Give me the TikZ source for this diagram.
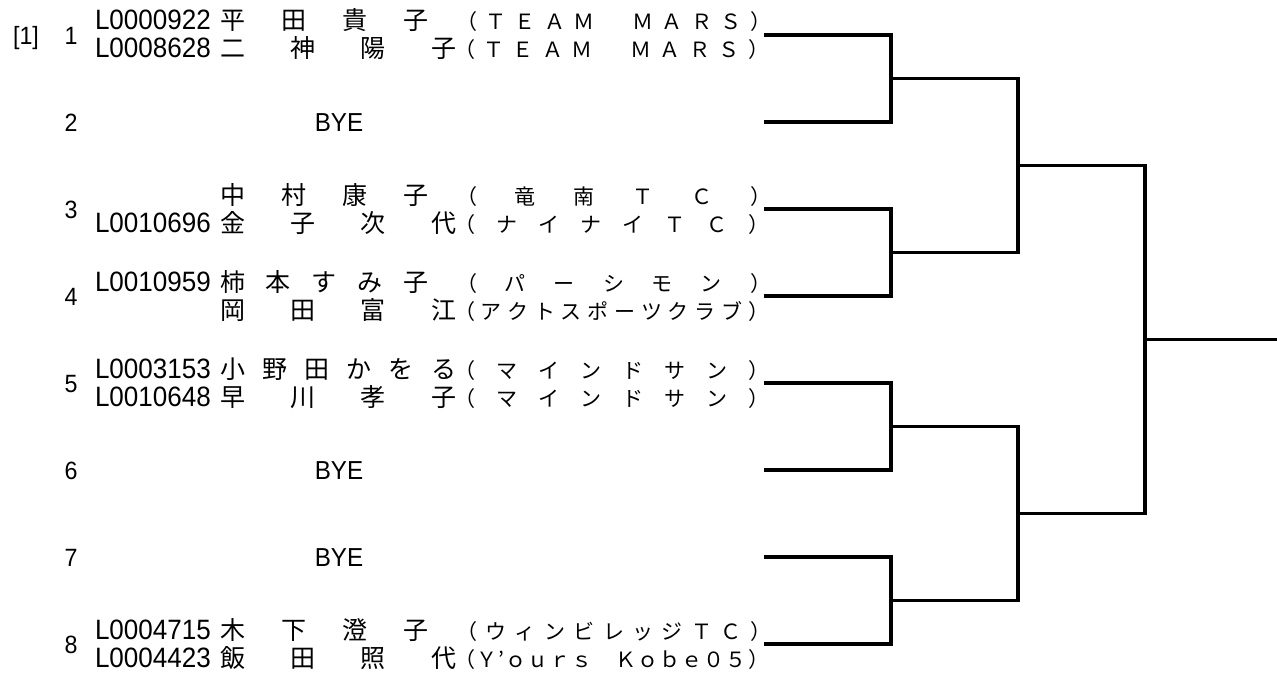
\documentclass[tikz,border=0pt]{standalone}
\usepackage{fontspec}
\setmainfont{Liberation Sans}
\newfontfamily\idfont[FakeStretch=0.93]{Liberation Sans}
\newfontfamily\jfont{Noto Sans CJK JP}
\makeatletter
\newcommand\spr[2]{\makebox[#1][s]{\spr@a#2\relax}}
\def\spr@a#1{#1\spr@b}
\def\spr@b#1{\ifx#1\relax\else\hfill#1\expandafter\spr@b\fi}
\makeatother
\newcommand\nmS[1]{\spr{208pt}{#1}}
\newcommand\nmL[1]{\spr{236pt}{#1}}
\newcommand\cl[1]{\spr{315pt}{#1}}
\tikzset{
  every node/.style={inner sep=0pt, outer sep=0pt},
  idt/.style={anchor=base west, font=\idfont\fontsize{28}{30}\selectfont},
  numt/.style={anchor=base, font=\idfont\fontsize{25}{28}\selectfont},
  nmt/.style={anchor=base west, font=\jfont\fontsize{25}{28}\selectfont},
  clt/.style={anchor=base west, font=\jfont\fontsize{21}{24}\selectfont},
  byet/.style={anchor=base, font=\idfont\fontsize{26}{28}\selectfont},
  br/.style={line width=3.2pt, line join=miter}
}
\begin{document}
\begin{tikzpicture}[x=1pt, y=-1pt]
\useasboundingbox (0,0) rectangle (1277,677);
% row 1
\node[numt] (seed) at (26,45) {[1]};
\node[numt] (n1) at (71,45) {1};
\node[idt] (id1a) at (95,30) {L0000922};
\node[nmt] (nm1a) at (220,30) {\nmS{平田貴子}};
\node[clt] (cl1a) at (456,30) {\cl{（ＴＥＡＭ　ＭＡＲＳ）}};
\node[idt] (id1b) at (95,58) {L0008628};
\node[nmt] (nm1b) at (220,58) {\nmL{二神陽子}};
\node[clt] (cl1b) at (454,58) {\cl{（ＴＥＡＭ　ＭＡＲＳ）}};
% row 2
\node[numt] (n2) at (71,131) {2};
\node[byet] (bye2) at (339,131) {BYE};
% row 3
\node[numt] (n3) at (71,218) {3};
\node[nmt] (nm3a) at (220,204) {\nmS{中村康子}};
\node[clt] (cl3a) at (456,204) {\cl{（竜南ＴＣ）}};
\node[idt] (id3b) at (95,232) {L0010696};
\node[nmt] (nm3b) at (220,232) {\nmL{金子次代}};
\node[clt] (cl3b) at (454,232) {\cl{（ナイナイＴＣ）}};
% row 4
\node[numt] (n4) at (71,305) {4};
\node[idt] (id4a) at (95,291) {L0010959};
\node[nmt] (nm4a) at (220,291) {\nmS{柿本すみ子}};
\node[clt] (cl4a) at (456,291) {\cl{（パーシモン）}};
\node[nmt] (nm4b) at (220,319) {\nmL{岡田富江}};
\node[clt] (cl4b) at (454,319) {\cl{（アクトスポーツクラブ）}};
% row 5
\node[numt] (n5) at (71,392) {5};
\node[idt] (id5a) at (95,378) {L0003153};
\node[nmt] (nm5a) at (220,378) {\nmL{小野田かをる}};
\node[clt] (cl5a) at (454,378) {\cl{（マインドサン）}};
\node[idt] (id5b) at (95,406) {L0010648};
\node[nmt] (nm5b) at (220,406) {\nmL{早川孝子}};
\node[clt] (cl5b) at (454,406) {\cl{（マインドサン）}};
% row 6
\node[numt] (n6) at (71,479) {6};
\node[byet] (bye6) at (339,479) {BYE};
% row 7
\node[numt] (n7) at (71,566) {7};
\node[byet] (bye7) at (339,566) {BYE};
% row 8
\node[numt] (n8) at (71,653) {8};
\node[idt] (id8a) at (95,639) {L0004715};
\node[nmt] (nm8a) at (220,639) {\nmS{木下澄子}};
\node[clt] (cl8a) at (456,639) {\cl{（ウィンビレッジＴＣ）}};
\node[idt] (id8b) at (95,667) {L0004423};
\node[nmt] (nm8b) at (220,667) {\nmL{飯田照代}};
\node[clt] (cl8b) at (454,667) {\cl{（Ｙ’ｏｕｒｓ　Ｋｏｂｅ０５）}};
% bracket coordinates
\coordinate (s1) at (764,35);
\coordinate (s2) at (764,122);
\coordinate (s3) at (764,209);
\coordinate (s4) at (764,296);
\coordinate (s5) at (764,383);
\coordinate (s6) at (764,470);
\coordinate (s7) at (764,557);
\coordinate (s8) at (764,644);
\coordinate (m12) at (891,78.5);
\coordinate (m34) at (891,252.5);
\coordinate (m56) at (891,426.5);
\coordinate (m78) at (891,600.5);
\coordinate (q1) at (1018,165.5);
\coordinate (q2) at (1018,513.5);
\coordinate (f) at (1145,339.5);
\coordinate (win) at (1277,339.5);
\draw[br] (s1) -| (m12);
\draw[br] (s2) -| (m12);
\draw[br] (s3) -| (m34);
\draw[br] (s4) -| (m34);
\draw[br] (s5) -| (m56);
\draw[br] (s6) -| (m56);
\draw[br] (s7) -| (m78);
\draw[br] (s8) -| (m78);
\draw[br] (m12) -| (q1);
\draw[br] (m34) -| (q1);
\draw[br] (m56) -| (q2);
\draw[br] (m78) -| (q2);
\draw[br] (q1) -| (f);
\draw[br] (q2) -| (f);
\draw[br] (f) -- (win);
\end{tikzpicture}
\end{document}
